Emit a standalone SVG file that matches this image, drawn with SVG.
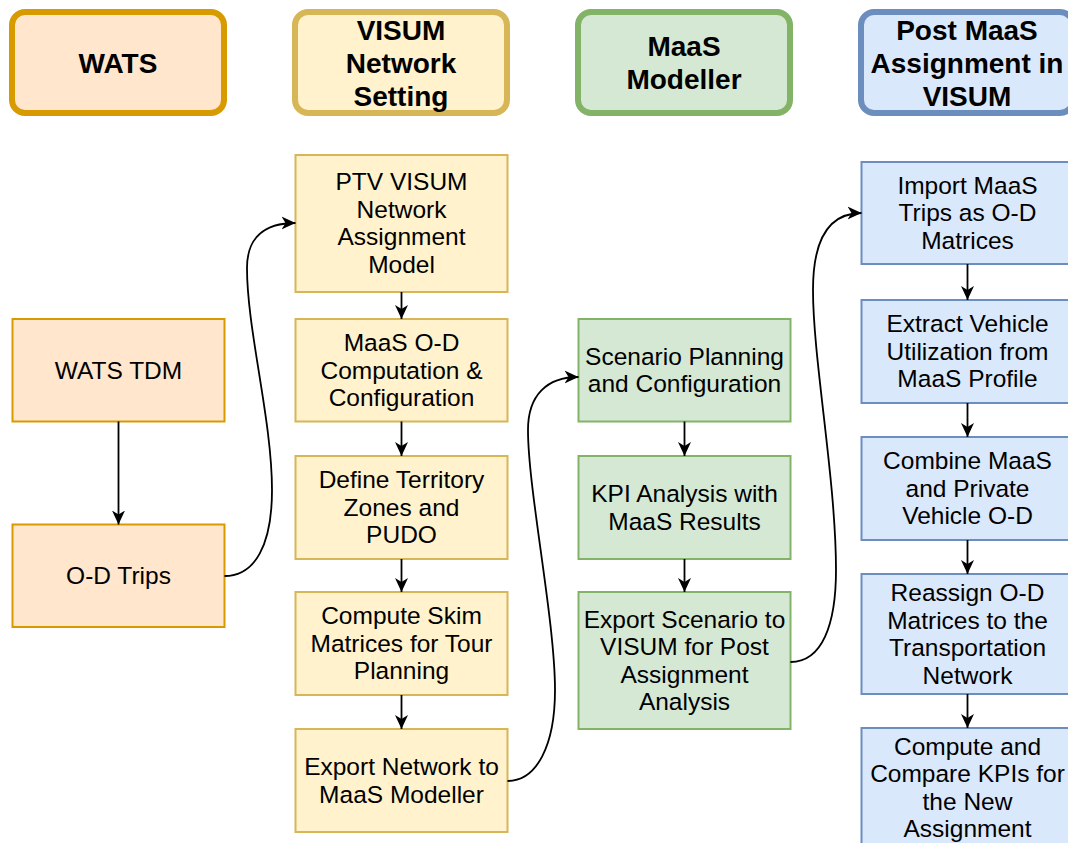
<svg xmlns="http://www.w3.org/2000/svg" width="1068" height="843" viewBox="0 0 1068 843">
<style>
.hdr{stroke-width:6}
.box{stroke-width:2}
.t{font-family:"Liberation Sans",Arial,sans-serif;font-size:24.5px;fill:#000;text-anchor:middle}
.h{font-family:"Liberation Sans",Arial,sans-serif;font-size:28px;font-weight:bold;fill:#000;text-anchor:middle}
.or{fill:#ffe6cc;stroke:#d79b00}
.ye{fill:#fff2cc;stroke:#d6b656}
.gr{fill:#d5e8d4;stroke:#82b366}
.bl{fill:#dae8fc;stroke:#6c8ebf}
.c{fill:none;stroke:#000;stroke-width:1.8}
</style>
<defs>
<marker id="arr" markerUnits="userSpaceOnUse" markerWidth="14" markerHeight="14" viewBox="0 0 14 14" refX="14" refY="7" orient="auto">
<path d="M0,0.5 L14,7 L0,13.5 L4,7 Z" fill="#000"/>
</marker>
</defs>
<rect width="1068" height="843" fill="#fff"/>

<g id="hdr-wats"><rect class="hdr or" x="12" y="12" width="212" height="101" rx="13"/><text class="h" x="118" y="72.5">WATS</text></g>
<g id="hdr-visum"><rect class="hdr ye" x="295" y="12" width="212" height="101" rx="13"/><text class="h" x="401" y="40">VISUM</text><text class="h" x="401" y="73">Network</text><text class="h" x="401" y="106">Setting</text></g>
<g id="hdr-maas"><rect class="hdr gr" x="578" y="12" width="212" height="101" rx="13"/><text class="h" x="684" y="56">MaaS</text><text class="h" x="684" y="89">Modeller</text></g>
<g id="hdr-post"><rect class="hdr bl" x="861" y="12" width="212" height="101" rx="13"/><text class="h" x="967" y="40">Post MaaS</text><text class="h" x="967" y="73">Assignment in</text><text class="h" x="967" y="106">VISUM</text></g>

<g id="wats-tdm"><rect class="box or" x="12.5" y="319" width="212" height="102.5"/><text class="t" x="118.5" y="379">WATS TDM</text></g>
<g id="od-trips"><rect class="box or" x="12.5" y="524.5" width="212" height="102.5"/><text class="t" x="118.5" y="584">O-D Trips</text></g>

<g id="ptv"><rect class="box ye" x="295.5" y="155" width="212" height="137"/><text class="t" x="401.5" y="190">PTV VISUM</text><text class="t" x="401.5" y="217.5">Network</text><text class="t" x="401.5" y="245">Assignment</text><text class="t" x="401.5" y="272.5">Model</text></g>
<g id="maas-od"><rect class="box ye" x="295.5" y="319" width="212" height="102.5"/><text class="t" x="401.5" y="351">MaaS O-D</text><text class="t" x="401.5" y="378.5">Computation &amp;</text><text class="t" x="401.5" y="406">Configuration</text></g>
<g id="define"><rect class="box ye" x="295.5" y="456" width="212" height="103"/><text class="t" x="401.5" y="488">Define Territory</text><text class="t" x="401.5" y="515.5">Zones and</text><text class="t" x="401.5" y="543">PUDO</text></g>
<g id="skim"><rect class="box ye" x="295.5" y="592" width="212" height="103"/><text class="t" x="401.5" y="624">Compute Skim</text><text class="t" x="401.5" y="651.5">Matrices for Tour</text><text class="t" x="401.5" y="679">Planning</text></g>
<g id="export-net"><rect class="box ye" x="295.5" y="729" width="212" height="103"/><text class="t" x="401.5" y="775">Export Network to</text><text class="t" x="401.5" y="802.5">MaaS Modeller</text></g>

<g id="scenario"><rect class="box gr" x="578.5" y="319" width="212" height="102.5"/><text class="t" x="684.5" y="364.5">Scenario Planning</text><text class="t" x="684.5" y="392">and Configuration</text></g>
<g id="kpi"><rect class="box gr" x="578.5" y="456" width="212" height="103"/><text class="t" x="684.5" y="502">KPI Analysis with</text><text class="t" x="684.5" y="529.5">MaaS Results</text></g>
<g id="export-scen"><rect class="box gr" x="578.5" y="592" width="212" height="137"/><text class="t" x="684.5" y="627.5">Export Scenario to</text><text class="t" x="684.5" y="655">VISUM for Post</text><text class="t" x="684.5" y="682.5">Assignment</text><text class="t" x="684.5" y="710">Analysis</text></g>

<g id="import"><rect class="box bl" x="861.5" y="162" width="212" height="102"/><text class="t" x="967.5" y="193.5">Import MaaS</text><text class="t" x="967.5" y="221">Trips as O-D</text><text class="t" x="967.5" y="248.5">Matrices</text></g>
<g id="extract"><rect class="box bl" x="861.5" y="300" width="212" height="103"/><text class="t" x="967.5" y="332">Extract Vehicle</text><text class="t" x="967.5" y="359.5">Utilization from</text><text class="t" x="967.5" y="387">MaaS Profile</text></g>
<g id="combine"><rect class="box bl" x="861.5" y="437" width="212" height="103"/><text class="t" x="967.5" y="469">Combine MaaS</text><text class="t" x="967.5" y="496.5">and Private</text><text class="t" x="967.5" y="524">Vehicle O-D</text></g>
<g id="reassign"><rect class="box bl" x="861.5" y="574" width="212" height="120"/><text class="t" x="967.5" y="601">Reassign O-D</text><text class="t" x="967.5" y="628.5">Matrices to the</text><text class="t" x="967.5" y="656">Transportation</text><text class="t" x="967.5" y="683.5">Network</text></g>
<g id="compare"><rect class="box bl" x="861.5" y="728" width="212" height="119"/><text class="t" x="967.5" y="754.5">Compute and</text><text class="t" x="967.5" y="782">Compare KPIs for</text><text class="t" x="967.5" y="809.5">the New</text><text class="t" x="967.5" y="837">Assignment</text></g>

<g id="connectors">
<path class="c" marker-end="url(#arr)" d="M118.5,421.5 L118.5,524.5"/>
<path class="c" marker-end="url(#arr)" d="M224.5,576 C255,576 272,545 272,490 C272,420 247,330 247,268 C247,238 264,223 295.5,223"/>
<path class="c" marker-end="url(#arr)" d="M401.5,292 L401.5,319"/>
<path class="c" marker-end="url(#arr)" d="M401.5,421.5 L401.5,456"/>
<path class="c" marker-end="url(#arr)" d="M401.5,559 L401.5,592"/>
<path class="c" marker-end="url(#arr)" d="M401.5,695 L401.5,729"/>
<path class="c" marker-end="url(#arr)" d="M507.5,781 C537,781 555,745 555,690 C555,620 528,490 528,430 C528,395 547,377 578.5,377"/>
<path class="c" marker-end="url(#arr)" d="M684.5,421.5 L684.5,456"/>
<path class="c" marker-end="url(#arr)" d="M684.5,559 L684.5,592"/>
<path class="c" marker-end="url(#arr)" d="M790.5,662 C822,662 836,625 836,570 C836,480 813,360 813,290 C813,240 828,213 861.5,213"/>
<path class="c" marker-end="url(#arr)" d="M967.5,264 L967.5,300"/>
<path class="c" marker-end="url(#arr)" d="M967.5,403 L967.5,437"/>
<path class="c" marker-end="url(#arr)" d="M967.5,540 L967.5,574"/>
<path class="c" marker-end="url(#arr)" d="M967.5,694 L967.5,728"/>
</g>
</svg>
